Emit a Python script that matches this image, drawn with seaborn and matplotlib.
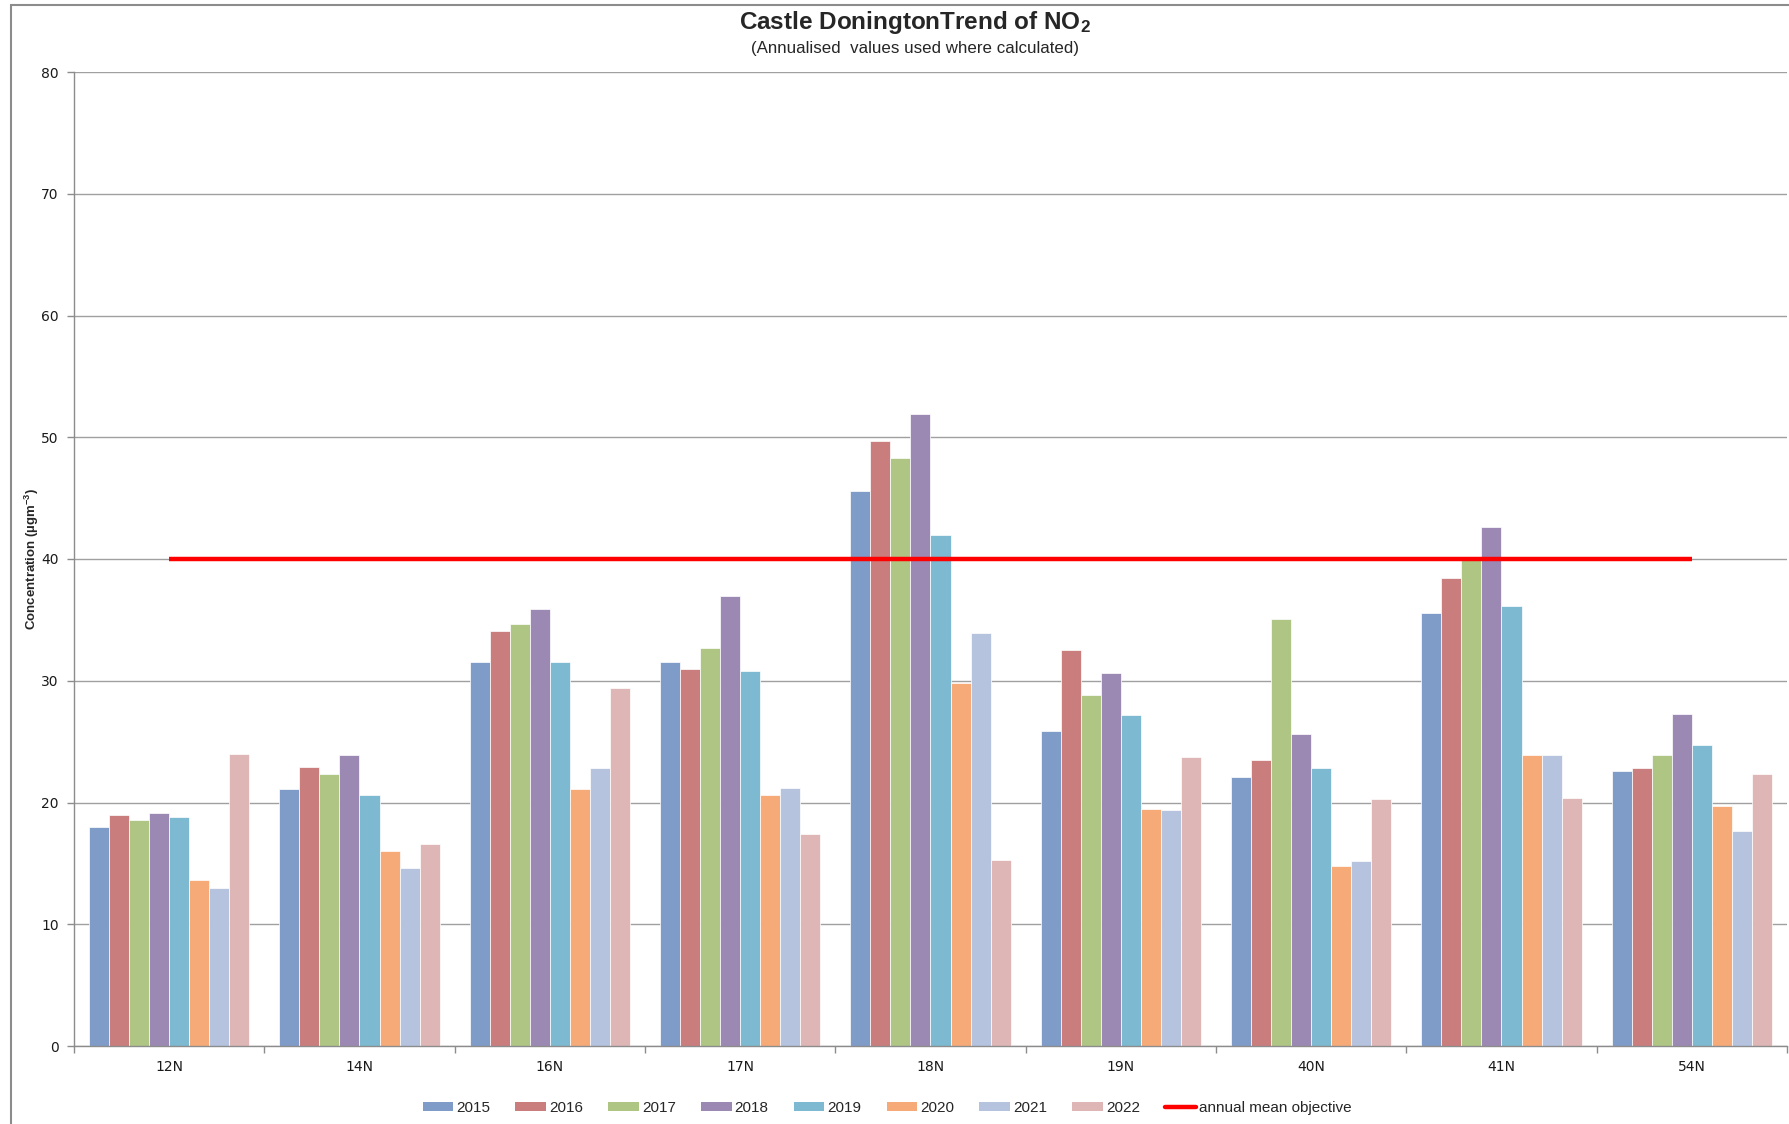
import numpy as np
import pandas as pd
import matplotlib
matplotlib.use("Agg")
import matplotlib.pyplot as plt
from matplotlib import font_manager
from matplotlib.patches import Patch, Rectangle
from matplotlib.lines import Line2D
from matplotlib.ticker import FixedLocator
import seaborn as sns

# Monitoring sites and annual mean NO2 concentrations (µg/m³)
sites = ["12N", "14N", "16N", "17N", "18N", "19N", "40N", "41N", "54N"]
years = ["2015", "2016", "2017", "2018", "2019", "2020", "2021", "2022"]
y2015 = [18.0, 21.1, 31.5, 31.5, 45.6, 25.9, 22.1, 35.6, 22.6]
y2016 = [19.0, 22.9, 34.1, 31.0, 49.7, 32.5, 23.5, 38.4, 22.8]
y2017 = [18.6, 22.3, 34.7, 32.7, 48.3, 28.8, 35.1, 40.2, 23.9]
y2018 = [19.1, 23.9, 35.9, 37.0, 51.9, 30.6, 25.6, 42.6, 27.3]
y2019 = [18.8, 20.6, 31.5, 30.8, 42.0, 27.2, 22.8, 36.1, 24.7]
y2020 = [13.6, 16.0, 21.1, 20.6, 29.8, 19.5, 14.8, 23.9, 19.7]
y2021 = [13.0, 14.6, 22.8, 21.2, 33.9, 19.4, 15.2, 23.9, 17.7]
y2022 = [24.0, 16.6, 29.4, 17.4, 15.3, 23.7, 20.3, 20.4, 22.3]
objective = [40] * len(sites)
yticks = [0, 10, 20, 30, 40, 50, 60, 70, 80]

colors = ["#7F9CC8", "#C97D7C", "#AEC584", "#9B89B3",
          "#7DB9D0", "#F6AA77", "#B5C3DE", "#DFB6B6"]

series = [y2015, y2016, y2017, y2018, y2019, y2020, y2021, y2022]
df = pd.DataFrame({
    "site": np.tile(sites, len(years)),
    "year": np.repeat(years, len(sites)),
    "value": np.concatenate(series),
})

sns.set_theme(style="white")
names = {f.name for f in font_manager.fontManager.ttflist}
narrow = "Liberation Sans Narrow" if "Liberation Sans Narrow" in names else "Liberation Sans"
plt.rcParams["font.family"] = ["DejaVu Sans"]
plt.rcParams["mathtext.default"] = "regular"

fig = plt.figure(figsize=(17.9, 11.24), dpi=100)
ax = fig.add_axes([74 / 1790, 1 - 1046 / 1124, (1787 - 74) / 1790, (1046 - 72) / 1124])

sns.barplot(data=df, x="site", y="value", hue="year", hue_order=years,
            order=sites, palette=colors, width=0.842, saturation=1,
            edgecolor="white", linewidth=0.5, legend=False, ax=ax, zorder=2)

ax.plot(np.arange(len(sites)), objective, color="#FF0000", lw=3.2,
        solid_capstyle="butt", zorder=4)

ax.set_xlim(-0.5, len(sites) - 0.5)
ax.set_ylim(0, 80)
ax.set_yticks(yticks)
ax.set_axisbelow(True)
ax.grid(axis="y", color="#A0A0A0", lw=1.0)
ax.grid(axis="x", visible=False)

for side in ["top", "right"]:
    ax.spines[side].set_visible(False)
for side in ["left", "bottom"]:
    ax.spines[side].set_color("#8C8C8C")
    ax.spines[side].set_linewidth(1.0)

ax.tick_params(axis="y", which="major", length=5, width=1, color="#8C8C8C",
               direction="out", labelsize=10, labelcolor="#1a1a1a", pad=6, left=True)
ax.tick_params(axis="x", which="major", length=0, labelsize=10,
               labelcolor="#1a1a1a", pad=10)
ax.xaxis.set_minor_locator(FixedLocator(np.arange(len(sites) + 1) - 0.5))
ax.tick_params(axis="x", which="minor", length=5, width=1, color="#8C8C8C",
               direction="out", bottom=True)

ax.set_xlabel("")
ax.set_ylabel("Concentration (µgm$^{-3}$)", fontsize=9.5, fontweight="bold",
              family=[narrow, "DejaVu Sans"], labelpad=0)

fig.text(0.511, 1 - 23 / 1124, "Castle DoningtonTrend of NO$_2$", ha="center",
         va="center", fontsize=17.5, fontweight="bold",
         family=["Liberation Sans", "DejaVu Sans"])
fig.text(0.511, 1 - 48 / 1124, "(Annualised  values used where calculated)",
         ha="center", va="center", fontsize=12.2,
         family=["Liberation Sans", "DejaVu Sans"])

handles = [Patch(facecolor=c, edgecolor="none") for c in colors]
handles.append(Line2D([0], [0], color="#FF0000", lw=3.2))
labels = years + ["annual mean objective"]
fig.legend(handles, labels, loc="center", bbox_to_anchor=(0.4955, 1 - 1108 / 1124),
           ncol=len(labels), frameon=False, prop={"family": narrow, "size": 11},
           handlelength=2.0, handleheight=0.55, handletextpad=0.2,
           columnspacing=1.65)

# chart frame
fig.add_artist(Rectangle((11 / 1790, -0.02), 1.2, 1 - 5 / 1124 + 0.02,
                         transform=fig.transFigure, fill=False,
                         edgecolor="#8C8C8C", lw=1.5))

fig.savefig("out.png", dpi=100)
